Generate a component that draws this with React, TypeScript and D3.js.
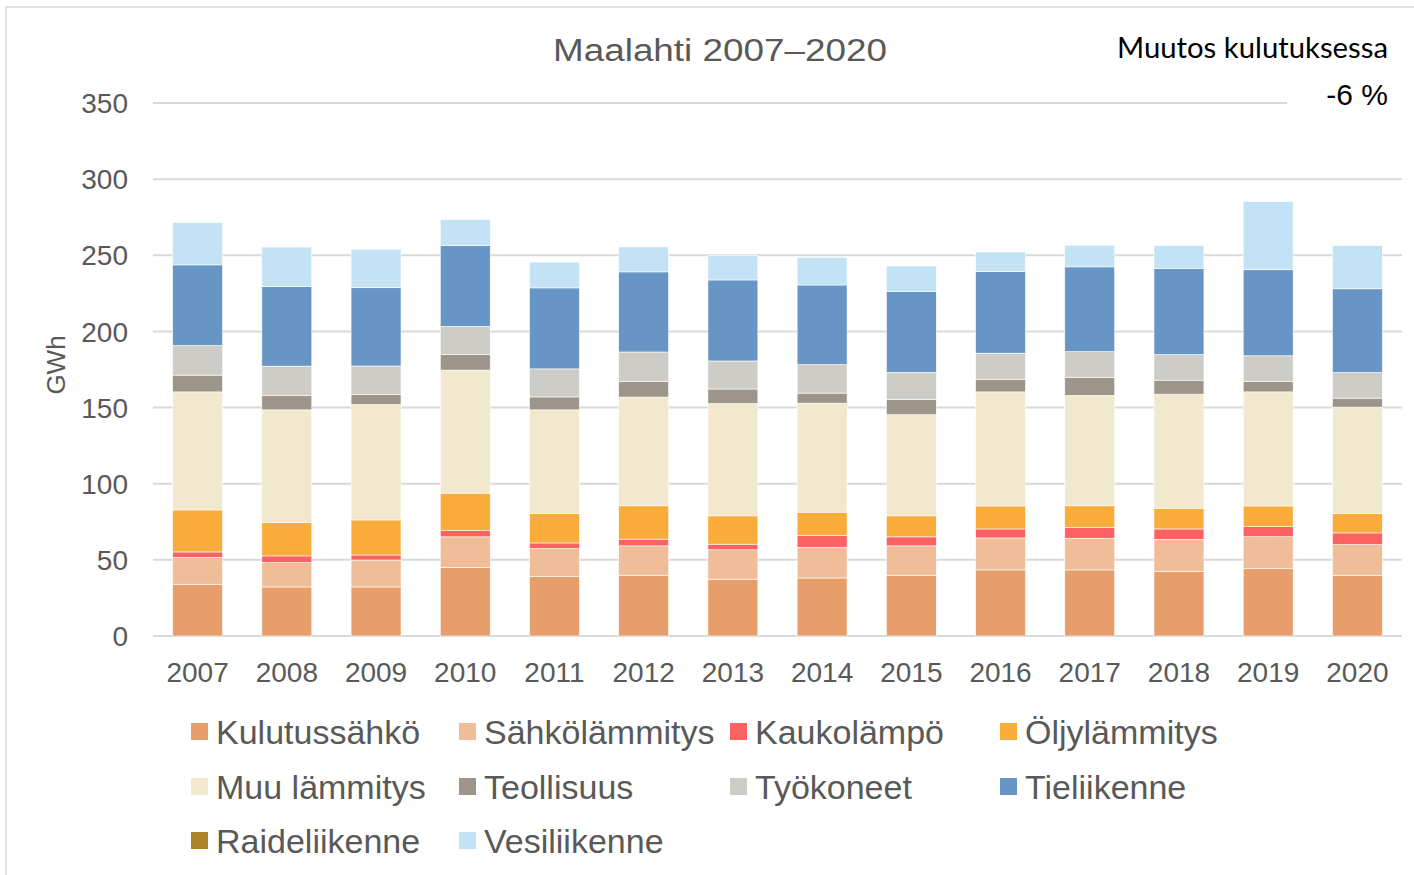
import { useEffect, useRef } from "react";
import * as d3 from "d3";

// Maalahti energy consumption 2007–2020, GWh
const years = ["2007", "2008", "2009", "2010", "2011", "2012", "2013", "2014", "2015", "2016", "2017", "2018", "2019", "2020"];

const kulutussahko = [34.0, 32.2, 32.2, 44.9, 39.0, 39.9, 37.3, 38.1, 39.9, 43.4, 43.4, 42.5, 44.2, 39.9];
const sahkolammitys = [17.5, 16.0, 17.7, 20.2, 18.4, 19.3, 19.3, 20.2, 19.3, 21.0, 20.8, 21.0, 21.0, 20.1];
const kaukolampo = [3.7, 4.4, 3.3, 4.1, 3.7, 4.4, 3.7, 7.7, 5.9, 5.9, 7.0, 6.8, 6.6, 7.7];
const oljylammitys = [27.6, 21.9, 23.0, 24.6, 19.3, 21.9, 18.6, 15.3, 13.8, 15.1, 14.3, 13.6, 13.6, 12.7];
const muuLammitys = [77.5, 74.0, 75.8, 80.8, 68.1, 71.4, 73.8, 71.6, 66.4, 74.9, 72.5, 74.9, 74.9, 69.9];
const teollisuus = [11.0, 9.4, 6.6, 10.3, 8.5, 10.3, 9.5, 6.6, 10.1, 8.3, 11.8, 9.2, 6.8, 5.9];
const tyokoneet = [19.4, 19.3, 18.7, 18.4, 18.4, 19.3, 18.4, 18.7, 17.7, 17.1, 16.9, 16.8, 16.9, 16.8];
const tieliikenne = [53.0, 52.3, 51.4, 53.2, 53.2, 52.6, 53.2, 52.3, 53.2, 53.6, 55.7, 56.5, 56.5, 55.0];
const raideliikenne = [0, 0, 0, 0, 0, 0, 0, 0, 0, 0, 0, 0, 0, 0];
const vesiliikenne = [27.8, 25.9, 25.2, 16.9, 16.9, 16.4, 16.0, 18.2, 16.7, 12.9, 14.2, 15.1, 44.7, 28.4];

const seriesNames = [
  "Kulutussähkö", "Sähkölämmitys", "Kaukolämpö", "Öljylämmitys", "Muu lämmitys",
  "Teollisuus", "Työkoneet", "Tieliikenne", "Raideliikenne", "Vesiliikenne",
];
const seriesValues = [
  kulutussahko, sahkolammitys, kaukolampo, oljylammitys, muuLammitys,
  teollisuus, tyokoneet, tieliikenne, raideliikenne, vesiliikenne,
];
const seriesColors = [
  "#e79e6b", "#efbe99", "#fc6262", "#f9ac3a", "#f2e8ce",
  "#9d958a", "#cdccc6", "#6796c6", "#ad8429", "#c4e2f5",
];

const yTicks = [0, 50, 100, 150, 200, 250, 300, 350];
const title = "Maalahti 2007–2020";
const noteLabel = "Muutos kulutuksessa";
const noteValue = "-6 %";

const W = 1414;
const H = 875;

export default function App() {
  const svgRef = useRef<SVGSVGElement>(null);

  useEffect(() => {
    if (!svgRef.current) return;
    const svg = d3.select(svgRef.current);
    svg.selectAll("*").remove();

    const font = "'Liberation Sans', Arial, sans-serif";
    const textGray = "#595959";
    const gridColor = "#d9d9d9";

    const x = d3.scaleBand<string>()
      .domain(years)
      .range([153, 1402])
      .paddingInner(0.44)
      .paddingOuter(0.22);

    const y = d3.scaleLinear().domain([0, 350]).range([636, 103]);

    // chart frame (only left / top edges are visible in the crop)
    svg.append("path")
      .attr("d", `M6,${H + 5} V7 H${W + 5}`)
      .attr("fill", "none")
      .attr("stroke", gridColor)
      .attr("stroke-width", 1.5);

    // gridlines
    svg.append("g")
      .selectAll("line")
      .data(yTicks)
      .join("line")
      .attr("x1", 153)
      .attr("x2", (d) => (d === 350 ? 1287 : 1402))
      .attr("y1", (d) => y(d))
      .attr("y2", (d) => y(d))
      .attr("stroke", gridColor)
      .attr("stroke-width", 2);

    // y tick labels
    svg.append("g")
      .selectAll("text")
      .data(yTicks)
      .join("text")
      .attr("x", 128)
      .attr("y", (d) => y(d))
      .attr("dy", "0.36em")
      .attr("text-anchor", "end")
      .attr("font-family", font)
      .attr("font-size", 28)
      .attr("fill", textGray)
      .text((d) => d);

    // stacked bars
    const rows = years.map((yr, i) => {
      const row: Record<string, number | string> = { year: yr };
      seriesNames.forEach((s, k) => (row[s] = seriesValues[k][i]));
      return row;
    });
    const stacked = d3.stack<Record<string, number | string>>()
      .keys(seriesNames)
      .value((d, key) => d[key] as number)(rows);

    svg.append("g")
      .selectAll("g")
      .data(stacked)
      .join("g")
      .attr("fill", (_, i) => seriesColors[i])
      .selectAll("rect")
      .data((d) => d.filter((p) => p[1] - p[0] > 0))
      .join("rect")
      .attr("x", (d) => x(d.data.year as string)!)
      .attr("width", x.bandwidth())
      .attr("y", (d) => y(d[1]))
      .attr("height", (d) => y(d[0]) - y(d[1]))
      .attr("stroke", "#ffffff")
      .attr("stroke-width", 0.6);

    // x tick labels
    svg.append("g")
      .selectAll("text")
      .data(years)
      .join("text")
      .attr("x", (d) => x(d)! + x.bandwidth() / 2)
      .attr("y", 682)
      .attr("text-anchor", "middle")
      .attr("font-family", font)
      .attr("font-size", 28)
      .attr("fill", textGray)
      .text((d) => d);

    // y axis title
    svg.append("text")
      .attr("transform", "translate(65,365) rotate(-90)")
      .attr("text-anchor", "middle")
      .attr("font-family", font)
      .attr("font-size", 26)
      .attr("fill", textGray)
      .text("GWh");

    // chart title
    svg.append("text")
      .attr("x", 553)
      .attr("y", 61)
      .attr("font-family", font)
      .attr("font-size", 31)
      .attr("textLength", 334)
      .attr("lengthAdjust", "spacingAndGlyphs")
      .attr("fill", textGray)
      .text(title);

    // change note, top right
    svg.append("rect")
      .attr("x", 1288)
      .attr("y", 20)
      .attr("width", 120)
      .attr("height", 100)
      .attr("fill", "#fff");
    svg.append("text")
      .attr("x", 1388)
      .attr("y", 58)
      .attr("text-anchor", "end")
      .attr("font-family", "Lato, 'Open Sans', sans-serif")
      .attr("font-size", 29)
      .attr("textLength", 271)
      .attr("lengthAdjust", "spacingAndGlyphs")
      .attr("fill", "#000")
      .text(noteLabel);
    svg.append("text")
      .attr("x", 1388)
      .attr("y", 105)
      .attr("text-anchor", "end")
      .attr("font-family", font)
      .attr("font-size", 30)
      .attr("fill", "#000")
      .text(noteValue);

    // legend: 4 columns, 3 rows
    const colX = [191, 459, 730, 1000];
    const rowY = [732, 787, 841];
    const legend = svg.append("g")
      .selectAll("g")
      .data(seriesNames)
      .join("g")
      .attr("transform", (_, i) => `translate(${colX[i % 4]},${rowY[Math.floor(i / 4)]})`);
    legend.append("rect")
      .attr("x", 0)
      .attr("y", -9)
      .attr("width", 17)
      .attr("height", 17)
      .attr("fill", (_, i) => seriesColors[i]);
    legend.append("text")
      .attr("x", 25)
      .attr("y", 12)
      .attr("font-family", font)
      .attr("font-size", 34)
      .attr("fill", textGray)
      .text((d) => d);
  }, []);

  return (
    <svg
      ref={svgRef}
      width={W}
      height={H}
      style={{ position: "absolute", left: 0, top: 0, background: "#fff" }}
    />
  );
}
